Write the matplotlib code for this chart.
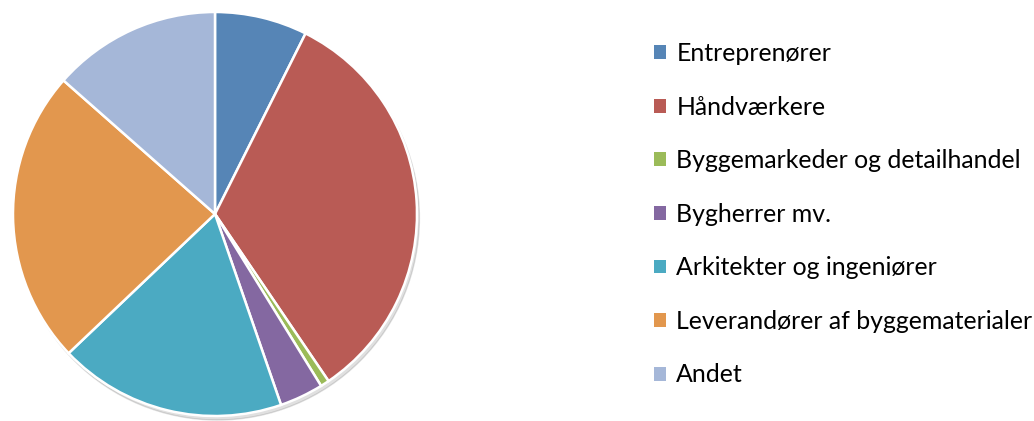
import matplotlib
matplotlib.use("Agg")
import matplotlib.pyplot as plt
from matplotlib.patches import Patch

labels = ["Entreprenører", "Håndværkere", "Byggemarkeder og detailhandel",
          "Bygherrer mv.", "Arkitekter og ingeniører",
          "Leverandører af byggematerialer", "Andet"]
shares = [7.4, 33.1, 0.7, 3.5, 18.2, 23.6, 13.5]
colors = ["#5685B6", "#B95B55", "#9BBB59", "#8468A1", "#4BAAC2", "#E2974E", "#A5B7D8"]

W, H = 1034, 421
fig = plt.figure(figsize=(W / 100, H / 100), dpi=100)

# pie: center (215, 214) px, radius 202 px
cx, cy, r = 215, 214, 202
ax = fig.add_axes([(cx - r) / W, (H - cy - r) / H, 2 * r / W, 2 * r / H])

# faint shadow under the pie
shadow = plt.Circle((0.012, -0.02), 1.0, color="#000000", alpha=0.12, zorder=0,
                    clip_on=False)
ax.add_patch(shadow)

wedges, _ = ax.pie(shares, colors=colors, startangle=90, counterclock=False, radius=1.0,
                   wedgeprops=dict(edgecolor="white", linewidth=1.8))
for w in wedges:
    w.set_clip_on(False)
ax.set_xlim(-1, 1)
ax.set_ylim(-1, 1)
ax.set_aspect("equal")
ax.axis("off")

handles = [Patch(facecolor=c, edgecolor="none") for c in colors]
fig.legend(handles, labels, loc="upper left", bbox_to_anchor=(654 / W, 1 - 42 / H),
           frameon=False, prop={"family": "Lato", "size": 17.9},
           handlelength=0.48, handleheight=0.48, handletextpad=0.42,
           labelspacing=1.23, borderpad=0, borderaxespad=0)

fig.savefig("out.png", dpi=100)
